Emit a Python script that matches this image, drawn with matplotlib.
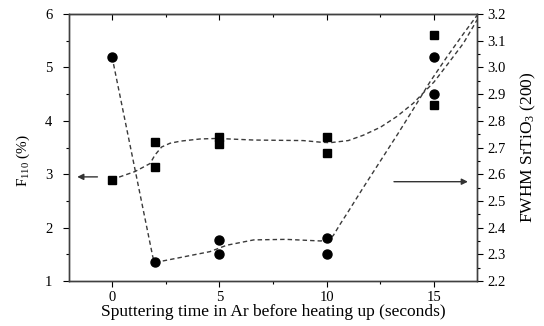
import numpy as np
import matplotlib
matplotlib.use("Agg")
from matplotlib import pyplot as plt
from matplotlib.ticker import MultipleLocator, FormatStrFormatter

plt.rcParams['font.family'] = ['Liberation Serif', 'DejaVu Serif']
plt.rcParams['mathtext.fontset'] = 'custom'
plt.rcParams['mathtext.rm'] = 'Liberation Serif'
plt.rcParams['mathtext.it'] = 'Liberation Serif:italic'

# F110 (%) - squares, left axis
sq_x = [0, 2, 2, 5, 5, 10, 10, 15, 15]
sq_y = [2.9, 3.6, 3.13, 3.7, 3.56, 3.7, 3.4, 5.6, 4.3]

# FWHM SrTiO3 (200) - circles, right axis
ci_x = [0, 2, 5, 5, 10, 10, 15, 15]
ci_y = [3.04, 2.27, 2.354, 2.302, 2.36, 2.302, 3.04, 2.90]

# dashed guide curves
sq_fit_x = [0, 1.07, 1.77, 2.0, 2.31, 2.7, 3.2, 4.1, 4.9, 6.6, 8.9, 9.7, 10.15,
            11.0, 11.7, 12.5, 13.26, 14.03, 15.0, 15.59, 16.36, 17.0]
sq_fit_y = [2.9, 3.05, 3.2, 3.36, 3.51, 3.58, 3.62, 3.66, 3.67, 3.64, 3.63, 3.6, 3.59,
            3.63, 3.73, 3.88, 4.08, 4.33, 4.73, 5.04, 5.45, 5.89]
ci_fit_x = [0, 1.9, 2.0, 2.1, 2.55, 4.56, 5.34, 6.6, 8.1, 9.7, 10.0, 10.3, 10.6,
            11.0, 11.7, 12.5, 13.3, 14.0, 14.8, 15.6, 16.4, 17.0]
ci_fit_y = [3.04, 2.29, 2.272, 2.271, 2.278, 2.31, 2.334, 2.354, 2.356, 2.35, 2.352, 2.37, 2.41,
            2.46, 2.55, 2.65, 2.75, 2.84, 2.945, 3.04, 3.13, 3.195]

fig = plt.figure(figsize=(5.44, 3.26), dpi=100)
ax = fig.add_axes([0.127, 0.138, 0.75, 0.819])
ax2 = ax.twinx()

dash = dict(color='#3a3a3a', lw=1.0, dashes=(3.2, 2.2))
ax.plot(sq_fit_x, sq_fit_y, **dash)
ax2.plot(ci_fit_x, ci_fit_y, **dash)
ax.plot(sq_x, sq_y, 's', color='black', ms=6, zorder=5)
ax2.plot(ci_x, ci_y, 'o', color='black', ms=6.5, zorder=5)

ax.set_xlim(-2, 17)
ax.set_ylim(1, 6)
ax2.set_ylim(2.2, 3.2)

ax.xaxis.set_major_locator(MultipleLocator(5))
ax.xaxis.set_minor_locator(MultipleLocator(2.5))
ax.yaxis.set_major_locator(MultipleLocator(1))
ax.yaxis.set_minor_locator(MultipleLocator(0.5))
ax2.yaxis.set_major_locator(MultipleLocator(0.1))
ax2.yaxis.set_minor_locator(MultipleLocator(0.05))
ax2.yaxis.set_major_formatter(FormatStrFormatter('%.1f'))

ax.tick_params(which='major', direction='out', length=4, width=0.8, labelsize=10.5, colors='black')
ax.tick_params(axis='y', which='major', pad=8)
ax.tick_params(which='minor', direction='out', length=2.5, width=0.8)
ax2.tick_params(which='major', direction='out', length=4, width=0.8, labelsize=10.5)
ax2.tick_params(which='minor', direction='out', length=2.5, width=0.8)

top = ax.secondary_xaxis('top')
top.xaxis.set_major_locator(MultipleLocator(5))
top.xaxis.set_minor_locator(MultipleLocator(2.5))
top.tick_params(which='major', direction='in', length=4, width=0.8, labeltop=False)
top.tick_params(which='minor', direction='in', length=2.5, width=0.8)

for a in (ax, ax2):
    for s in a.spines.values():
        s.set_color('#404040')
        s.set_linewidth(1.0)
top.spines['top'].set_color('#404040')

ax.set_xlabel('Sputtering time in Ar before heating up (seconds)', fontsize=12.5, labelpad=0)
ax.set_ylabel(r'F$_{110}$ (%)', fontsize=11)
ax.yaxis.set_label_coords(-0.09, 0.45)
ax2.set_ylabel(r'FWHM SrTiO$_3$ (200)', fontsize=12.5, labelpad=9)

# arrows pointing to the axes
ax.annotate('', xy=(-1.75, 2.95), xytext=(-0.55, 2.95),
            arrowprops=dict(arrowstyle='-|>', color='#333333', lw=1.0, mutation_scale=9))
ax.annotate('', xy=(16.7, 2.86), xytext=(13.0, 2.86),
            arrowprops=dict(arrowstyle='-|>', color='#333333', lw=1.0, mutation_scale=9))

fig.savefig('out.png', dpi=100)
